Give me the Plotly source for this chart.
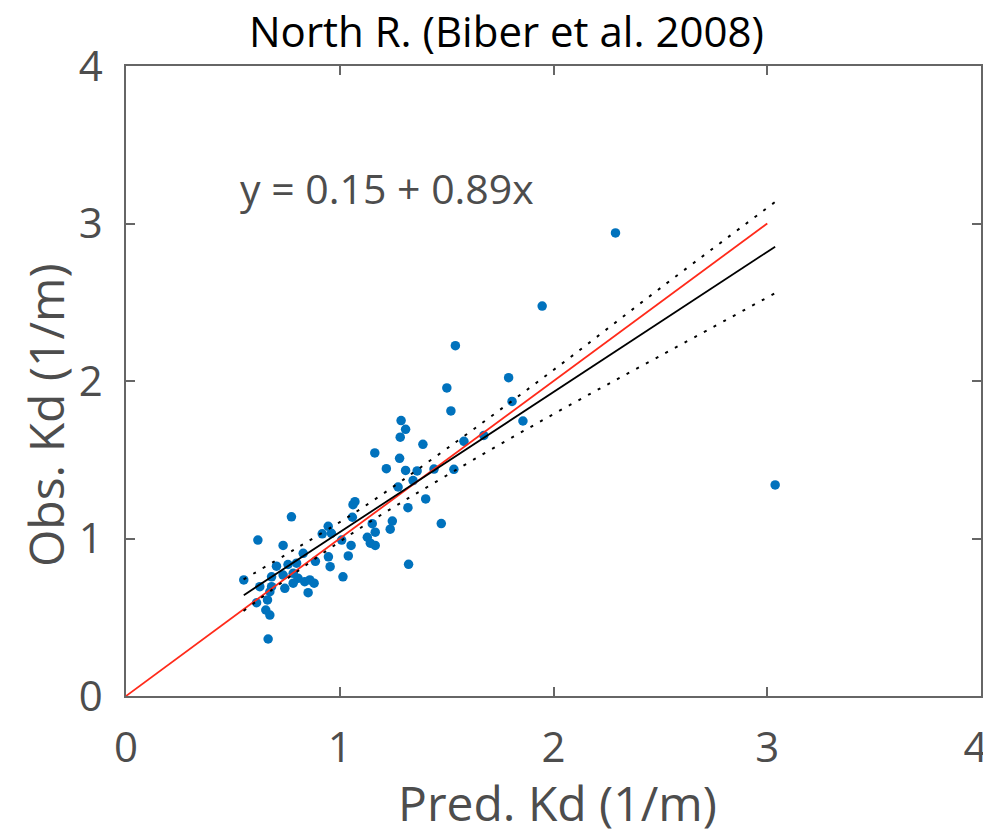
import plotly.graph_objects as go

pred_kd = [2.290, 1.947, 3.037, 1.541, 1.790, 1.501, 1.806, 1.520, 1.857, 1.287,
           1.308, 1.283, 1.389, 1.581, 1.674, 1.164, 1.280, 1.218, 1.308, 1.362,
           1.441, 1.534, 1.343, 1.273, 1.402, 1.319, 1.475, 1.322, 1.071, 1.062,
           1.059, 0.946, 0.918, 0.961, 1.246, 1.236, 1.152, 1.166, 1.129, 1.143,
           1.166, 1.053, 1.040, 0.947, 0.955, 1.009, 0.617, 0.551, 0.774, 0.735,
           0.829, 0.886, 1.015, 0.704, 0.758, 0.798, 0.681, 0.735, 0.782, 0.805,
           0.626, 0.681, 0.743, 0.782, 0.836, 0.860, 0.880, 0.852, 0.673, 0.662,
           0.611, 0.654, 0.673, 0.665]
obs_kd = [2.940, 2.476, 1.340, 2.224, 2.021, 1.956, 1.870, 1.810, 1.746, 1.749,
          1.693, 1.643, 1.598, 1.617, 1.654, 1.543, 1.509, 1.443, 1.432, 1.429,
          1.441, 1.439, 1.368, 1.327, 1.251, 1.196, 1.095, 0.836, 1.234, 1.215,
          1.135, 1.077, 1.030, 1.033, 1.111, 1.059, 1.094, 1.040, 1.008, 0.970,
          0.956, 0.956, 0.889, 0.884, 0.821, 0.990, 0.990, 0.737, 1.138, 0.956,
          0.906, 0.855, 0.757, 0.824, 0.835, 0.843, 0.757, 0.768, 0.779, 0.747,
          0.694, 0.694, 0.684, 0.716, 0.726, 0.737, 0.716, 0.656, 0.662, 0.610,
          0.592, 0.546, 0.514, 0.362]

# Fitted regression (as printed on chart)
fit_intercept = 0.15
fit_slope = 0.89
fit_x = [0.551, 3.037]

# 1:1 reference line
one_to_one_x = [0, 3]

# Confidence band
band_x = [0.55, 0.8, 1.1, 1.5, 2.0, 2.5, 3.04]
band_upper = [0.74, 0.94, 1.19, 1.57, 2.07, 2.59, 3.14]
band_lower = [0.54, 0.79, 1.07, 1.40, 1.79, 2.16, 2.56]

tick_vals = [0, 1, 2, 3, 4]
tick_text = ["0", "1", "2", "3", "4"]
x_tick_text = ["0", "1", "2", "3", "4\u00a0"]  # last label nudged inside the page edge

FONT = "Open Sans"
GRAY = "#4d4d4d"

fig = go.Figure()

fig.add_trace(go.Scatter(x=pred_kd, y=obs_kd, mode="markers",
                         marker=dict(size=9.5, color="#0072BD", line=dict(width=0)),
                         showlegend=False))
fig.add_trace(go.Scatter(x=one_to_one_x, y=one_to_one_x, mode="lines",
                         line=dict(color="#ff2a1a", width=1.8), showlegend=False))
fig.add_trace(go.Scatter(x=fit_x, y=[fit_intercept + fit_slope * v for v in fit_x],
                         mode="lines", line=dict(color="black", width=1.8),
                         showlegend=False))
fig.add_trace(go.Scatter(x=band_x, y=band_upper, mode="lines", line_shape="spline",
                         line=dict(color="black", width=2, dash="3px,8px"), showlegend=False))
fig.add_trace(go.Scatter(x=band_x, y=band_lower, mode="lines", line_shape="spline",
                         line=dict(color="black", width=2, dash="3px,8px"), showlegend=False))

fig.add_annotation(x=0.523, y=3.225, xref="x", yref="y", text="y = 0.15 + 0.89x",
                   showarrow=False, xanchor="left", yanchor="middle",
                   font=dict(family=FONT, size=41, color=GRAY))

# Axis titles and chart title as positioned text
fig.add_annotation(x=0.505, y=0, xref="paper", yref="paper", yshift=-106,
                   text="Pred. Kd (1/m)", showarrow=False,
                   xanchor="center", yanchor="middle",
                   font=dict(family=FONT, size=48, color=GRAY))
fig.add_annotation(x=0, y=0.446, xref="paper", yref="paper", xshift=-81,
                   text="Obs. Kd (1/m)", showarrow=False, textangle=-90,
                   xanchor="center", yanchor="middle",
                   font=dict(family=FONT, size=48, color=GRAY))
fig.add_annotation(x=0.445, y=1, xref="paper", yref="paper", yshift=36,
                   text="North R. (Biber et al. 2008)", showarrow=False,
                   xanchor="center", yanchor="middle",
                   font=dict(family=FONT, size=42, color="black"))

axis_common = dict(range=[0, 4], tickvals=tick_vals,
                   ticks="inside", ticklen=9, tickwidth=1.5, tickcolor="#666666",
                   showline=True, linecolor="#666666", linewidth=1.5, mirror="ticks",
                   showgrid=False, zeroline=False, automargin=False,
                   ticklabeloverflow="allow",
                   tickfont=dict(family=FONT, size=42, color=GRAY))

fig.update_xaxes(**axis_common, ticktext=x_tick_text, ticklabelstandoff=14)
fig.update_yaxes(**axis_common, ticktext=tick_text, ticklabelstandoff=13)

fig.update_layout(
    width=983, height=826,
    margin=dict(l=118, r=10, t=58, b=138),
    plot_bgcolor="white", paper_bgcolor="white",
)

fig.write_html("out.html")
